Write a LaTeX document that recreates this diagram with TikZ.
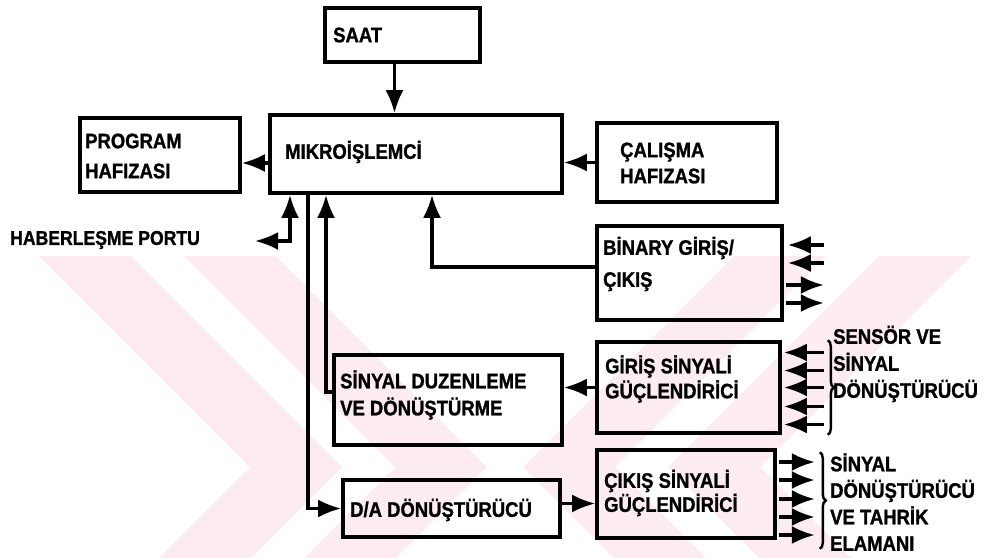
\documentclass[tikz,border=0pt]{standalone}
\usepackage{fontspec}
\setmainfont{Liberation Sans}
\newfontfamily\etiket{Liberation Sans}[FakeStretch=0.88, BoldFeatures={FakeBold=1.2}]
\usetikzlibrary{arrows.meta,decorations.pathreplacing,calc}
\definecolor{filigran}{RGB}{253,236,239}
\tikzset{
  blok/.style={draw, line width=3.6pt, inner sep=0pt},
  yazi/.style={font=\etiket\fontsize{21}{#1}\selectfont\bfseries, align=left, inner sep=0pt, anchor=west},
  yazi/.default=26,
  ok/.style={line width=3.2pt, -{Latex[length=23pt,width=18pt]}},
  ciftok/.style={line width=3.2pt, {Latex[length=23pt,width=18pt]}-{Latex[length=23pt,width=18pt]}},
  parantez/.style={line width=2.4pt, decorate, decoration={brace, amplitude=6pt}}
}

\begin{document}
\begin{tikzpicture}[x=1pt,y=-1pt]
    \useasboundingbox (0,0) rectangle (984,557);

    % Background watermark
    \begin{scope}
        \clip (0,256) rectangle (984,557);
        \foreach \t in {250,395} {
            \fill[filigran] (\t-300,167) -- (\t,467) -- (\t-300,767) -- (\t-208,767) -- (\t+92,467) -- (\t-208,167) -- cycle;
            \fill[filigran] (1310-\t,167) -- (1010-\t,467) -- (1310-\t,767) -- (1218-\t,767) -- (918-\t,467) -- (1218-\t,167) -- cycle;
        }
    \end{scope}

    % Blocks
    \node[blok, minimum width=155pt, minimum height=54pt] (saat) at (402.5,35) {};
    \node[blok, minimum width=292pt, minimum height=78pt] (mikro) at (416,154) {};
    \node[blok, minimum width=160pt, minimum height=74pt] (prog) at (160,155) {};
    \node[blok, minimum width=180pt, minimum height=79pt] (calisma) at (687,162.5) {};
    \node[blok, minimum width=185pt, minimum height=94pt] (binary) at (689.5,273) {};
    \node[blok, minimum width=228pt, minimum height=90pt] (duzen) at (448,400) {};
    \node[blok, minimum width=183pt, minimum height=91pt] (giris) at (688.5,387.5) {};
    \node[blok, minimum width=217pt, minimum height=57pt] (da) at (451.5,508.5) {};
    \node[blok, minimum width=178pt, minimum height=88pt] (cikis) at (686,494) {};

    % Block texts
    \node[yazi] (saatY) at (333,35) {SAAT};
    \node[yazi] (mikroY) at (285,152) {MIKROİŞLEMCİ};
    \node[yazi=30] (progY) at (85,156) {PROGRAM\\HAFIZASI};
    \node[yazi=26] (calismaY) at (620,163) {ÇALIŞMA\\HAFIZASI};
    \node[yazi=32] (binaryY) at (603,264) {BİNARY GİRİŞ/\\ÇIKIŞ};
    \node[yazi=25] (girisY) at (605,379) {GİRİŞ SİNYALİ\\GÜÇLENDİRİCİ};
    \node[yazi=27] (duzenY) at (340,395) {SİNYAL DUZENLEME\\VE DÖNÜŞTÜRME};
    \node[yazi] (daY) at (350,510) {D/A DÖNÜŞTÜRÜCÜ};
    \node[yazi=24] (cikisY) at (604,493) {ÇIKIŞ SİNYALİ\\GÜÇLENDİRİCİ};

    % Outside labels
    \node[yazi, font=\etiket\fontsize{20}{22}\selectfont\bfseries] (haber) at (10,240) {HABERLEŞME PORTU};
    \node[yazi=27] (sensor) at (833,364) {SENSÖR VE\\SİNYAL\\DÖNÜŞTÜRÜCÜ};
    \node[yazi=26.5] (tahrik) at (830,502) {SİNYAL\\DÖNÜŞTÜRÜCÜ\\VE TAHRİK\\ELAMANI};
    \coordinate (portUc) at (255,241);

    % Connections
    \draw[ok] ($(saat.south)+(-8,0)$) -- ($(saat.south |- mikro.north)+(-8,0)$);
    \draw[ok] ($(mikro.west)+(0,9)$) -- ($(mikro.west -| prog.east)+(0,9)$);
    \draw[ok] (calisma.west) -- (calisma.west -| mikro.east);
    \draw[ok] ($(binary.west)+(0,-6)$) -| ($(mikro.south)+(16,0)$);
    \draw[ok] ($(duzen.west)+(0,-8)$) -| ($(mikro.south)+(-90,0)$);
    \draw[ok] ($(mikro.south)+(-108,0)$) |- (da.west);
    \draw[ciftok] ($(mikro.south)+(-126,0)$) |- (portUc);
    \draw[ok] (giris.west) -- (giris.west -| duzen.east);
    \draw[ok] ($(da.east)+(0,-5)$) -- ($(da.east -| cikis.west)+(0,-5)$);

    % Binary in/out
    \foreach \dy in {-28,-10}
        \draw[ok] ($(binary.east)+(40,\dy)$) -- ($(binary.east)+(4,\dy)$);
    \foreach \dy in {12,30}
        \draw[ok] ($(binary.east)+(2,\dy)$) -- ($(binary.east)+(40,\dy)$);

    % Sensor inputs and actuator outputs
    \foreach \dy in {-35,-17,0,19,37}
        \draw[ok] ($(giris.east)+(42,\dy)$) -- ($(giris.east)+(2,\dy)$);
    \foreach \dy in {-32,-14,5,23,41}
        \draw[ok] ($(cikis.east)+(2,\dy)$) -- ($(cikis.east)+(38,\dy)$);
    \draw[parantez] ($(giris.north east)+(46,0)$) -- ($(giris.south east)+(46,0)$);
    \draw[parantez] ($(cikis.north east)+(43,4)$) -- ($(cikis.south east)+(43,9)$);
\end{tikzpicture}
\end{document}
